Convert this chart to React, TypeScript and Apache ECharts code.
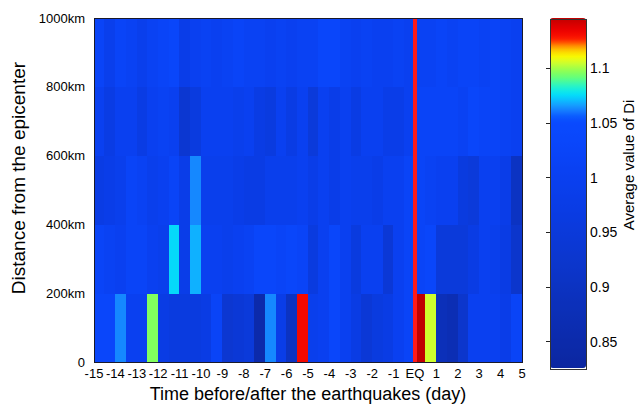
import React, { useEffect, useRef } from "react";
import * as echarts from "echarts";

// half-day time bins (start of each bin, in days relative to the earthquake)
const timeBins = [
  "-15", "-14.5", "-14", "-13.5", "-13", "-12.5", "-12", "-11.5", "-11", "-10.5",
  "-10", "-9.5", "-9", "-8.5", "-8", "-7.5", "-7", "-6.5", "-6", "-5.5",
  "-5", "-4.5", "-4", "-3.5", "-3", "-2.5", "-2", "-1.5", "-1", "-0.5",
  "0", "0.5", "1", "1.5", "2", "2.5", "3", "3.5", "4", "4.5",
];

const distanceBins = ["0-200km", "200-400km", "400-600km", "600-800km", "800-1000km"];

// Average value of Di per half-day bin, for each distance band
const band0to200 = [
  1.03, 1.03, 1.062, 1.0, 1.0, 1.095, 0.97, 0.96, 0.96, 0.96,
  0.97, 1.02, 0.93, 0.94, 0.95, 0.85, 1.062, 0.98, 0.9, 1.13,
  0.99, 1.0, 1.03, 1.0, 0.97, 0.94, 0.96, 0.97, 1.0, 1.02,
  1.145, 1.104, 0.88, 0.87, 0.92, 1.0, 1.0, 1.0, 0.98, 1.02,
];
const band200to400 = [
  1.02, 1.01, 1.0, 1.02, 1.02, 1.0, 0.99, 1.074, 0.98, 1.068,
  1.0, 1.0, 0.99, 1.0, 1.01, 1.03, 1.03, 1.02, 1.03, 1.02,
  0.96, 1.0, 1.03, 1.0, 0.96, 1.0, 1.0, 0.94, 1.0, 1.02,
  1.02, 1.03, 0.95, 0.95, 0.95, 0.97, 1.0, 0.99, 0.97, 0.92,
];
const band400to600 = [
  0.97, 0.98, 0.99, 1.02, 1.01, 0.99, 1.0, 1.02, 0.98, 1.062,
  0.99, 0.99, 0.99, 0.98, 0.97, 0.97, 0.99, 0.99, 0.99, 1.0,
  0.98, 1.0, 0.98, 1.0, 0.99, 0.99, 0.98, 1.0, 1.0, 1.02,
  1.02, 1.01, 1.0, 1.0, 0.96, 0.95, 1.0, 1.0, 0.98, 0.9,
];
const band600to800 = [
  1.0, 0.97, 1.0, 1.0, 0.97, 1.0, 1.01, 1.0, 0.93, 0.96,
  1.0, 1.0, 1.0, 0.99, 1.0, 0.97, 0.96, 1.0, 0.97, 1.0,
  0.95, 1.0, 0.98, 1.0, 0.97, 1.0, 1.0, 0.98, 0.98, 1.0,
  1.02, 1.02, 1.02, 1.02, 1.01, 1.03, 1.02, 1.02, 1.01, 1.0,
];
const band800to1000 = [
  1.02, 0.99, 1.02, 1.01, 0.99, 1.01, 1.02, 1.03, 0.98, 1.0,
  1.01, 1.0, 1.01, 1.02, 1.01, 1.01, 1.0, 1.01, 1.0, 1.01,
  1.01, 1.03, 1.03, 1.01, 1.0, 1.01, 1.0, 1.0, 1.01, 1.0,
  1.01, 1.01, 1.02, 1.01, 1.02, 1.02, 1.01, 1.02, 1.01, 1.0,
];

const dayTicks = [-15, -14, -13, -12, -11, -10, -9, -8, -7, -6, -5, -4, -3, -2, -1, 0, 1, 2, 3, 4, 5];
const dayTickLabels = ["-15", "-14", "-13", "-12", "-11", "-10", "-9", "-8", "-7", "-6", "-5", "-4", "-3", "-2", "-1", "EQ", "1", "2", "3", "4", "5"];
const distanceTicks = [0, 200, 400, 600, 800, 1000];
const distanceTickLabels = ["0", "200km", "400km", "600km", "800km", "1000km"];
const colorbarTicks = [0.85, 0.9, 0.95, 1, 1.05, 1.1];
const earthquakeDay = 0;

const colorMin = 0.825;
const colorMax = 1.145;
const colorStopValues = [0.825, 0.87, 0.92, 0.97, 1.0, 1.03, 1.05, 1.056, 1.062, 1.068, 1.074, 1.082, 1.09, 1.097, 1.104, 1.11, 1.117, 1.122, 1.126, 1.135, 1.145];
const colorStopColors = ["#0c26a0", "#0c2eb4", "#0c36cc", "#0a3ce4", "#0a40f0", "#0a46fa", "#0a4afe", "#0a5eff", "#1a88ff", "#10b0ff", "#00dcff", "#20f4d0", "#60ff80", "#90ff50", "#d0ff30", "#f8f800", "#ffc000", "#ff6000", "#ff1000", "#e80000", "#c00000"];

const FONT = "'Liberation Sans', Arial, Helvetica, sans-serif";

function hexToRgb(h: string) {
  const n = parseInt(h.slice(1), 16);
  return [(n >> 16) & 255, (n >> 8) & 255, n & 255];
}

function sampleColormap(n: number) {
  const out: string[] = [];
  for (let i = 0; i < n; i++) {
    const v = colorMin + ((colorMax - colorMin) * i) / (n - 1);
    let k = 0;
    while (k < colorStopValues.length - 2 && v > colorStopValues[k + 1]) k++;
    const a = colorStopValues[k];
    const b = colorStopValues[k + 1];
    const t = Math.max(0, Math.min(1, (v - a) / (b - a)));
    const ca = hexToRgb(colorStopColors[k]);
    const cb = hexToRgb(colorStopColors[k + 1]);
    const c = ca.map((x, j) => Math.round(x + (cb[j] - x) * t));
    out.push(`rgb(${c[0]},${c[1]},${c[2]})`);
  }
  return out;
}

export default function App() {
  const ref = useRef<HTMLDivElement>(null);

  useEffect(() => {
    if (!ref.current) return;
    const chart = echarts.init(ref.current, undefined, { renderer: "svg" });
    const bands = [band0to200, band200to400, band400to600, band600to800, band800to1000];
    const heatData: number[][] = [];
    bands.forEach((row, r) => row.forEach((v, c) => heatData.push([c, r, v])));

    const textBase = { fontFamily: FONT, color: "#000" };

    chart.setOption({
      animation: false,
      backgroundColor: "#fff",
      textStyle: { fontFamily: FONT },
      grid: [
        { left: 94, top: 18, width: 428, height: 349, show: true, z: 10, borderColor: "#1a1a2a", borderWidth: 1, backgroundColor: "transparent" },
        { left: 550, top: 19, width: 36, height: 350, show: true, z: 10, borderColor: "#333", borderWidth: 1, backgroundColor: "transparent" },
      ],
      xAxis: [
        { type: "category", gridIndex: 0, data: timeBins, show: false },
        {
          type: "value", gridIndex: 0, min: -15, max: 5, interval: 1, position: "bottom",
          axisLine: { show: false }, axisTick: { show: false }, splitLine: { show: false },
          axisLabel: { ...textBase, fontSize: 13, margin: 5, formatter: (v: number) => dayTickLabels[dayTicks.indexOf(v)] ?? "" },
          name: "Time before/after the earthquakes (day)", nameLocation: "middle", nameGap: 19,
          nameTextStyle: { ...textBase, fontSize: 18 },
        },
        { type: "value", gridIndex: 1, show: false, min: 0, max: 1 },
      ],
      yAxis: [
        { type: "category", gridIndex: 0, data: distanceBins, show: false },
        {
          type: "value", gridIndex: 0, min: 0, max: 1000, interval: 200, position: "left",
          axisLine: { show: false }, axisTick: { show: false }, splitLine: { show: false },
          axisLabel: { ...textBase, fontSize: 13, margin: 9, formatter: (v: number) => distanceTickLabels[distanceTicks.indexOf(v)] ?? "" },
          name: "Distance from the epicenter", nameLocation: "middle", nameGap: 66,
          nameTextStyle: { ...textBase, fontSize: 19, padding: [0, 0, 0, 24] },
        },
        {
          type: "value", gridIndex: 1, min: colorMin, max: colorMax, position: "right",
          axisLine: { show: false }, splitLine: { show: false },
          axisTick: { show: true, inside: true, length: 4, customValues: colorbarTicks, lineStyle: { color: "#222" } },
          axisLabel: { ...textBase, fontSize: 14, margin: 4, customValues: colorbarTicks },
          name: "Average value of Di", nameLocation: "middle", nameGap: 33,
          nameTextStyle: { ...textBase, fontSize: 15, padding: [0, 0, 0, 58] },
        },
        {
          type: "value", gridIndex: 1, min: colorMin, max: colorMax, position: "left",
          axisLine: { show: false }, splitLine: { show: false },
          axisTick: { show: true, inside: true, length: 4, customValues: colorbarTicks, lineStyle: { color: "#222" } },
          axisLabel: { show: false },
        },
      ],
      visualMap: {
        type: "continuous",
        seriesIndex: 0,
        min: colorMin,
        max: colorMax,
        calculable: false,
        hoverLink: false,
        left: 535,
        top: 3,
        itemWidth: 36,
        itemHeight: 350,
        inRange: { color: sampleColormap(65) },
      },
      series: [
        {
          type: "heatmap",
          xAxisIndex: 0,
          yAxisIndex: 0,
          data: heatData,
          emphasis: { disabled: true },
          itemStyle: { borderWidth: 0 },
        },
        {
          type: "line",
          xAxisIndex: 1,
          yAxisIndex: 1,
          data: [[earthquakeDay, 0], [earthquakeDay, 1000]],
          symbol: "none",
          z: 5,
          lineStyle: { color: "#ff1a1a", width: 3.5 },
        },
      ],
    });
    return () => chart.dispose();
  }, []);

  return <div ref={ref} style={{ position: "fixed", left: 0, top: 0, width: 641, height: 408, shapeRendering: "crispEdges" }} />;
}
